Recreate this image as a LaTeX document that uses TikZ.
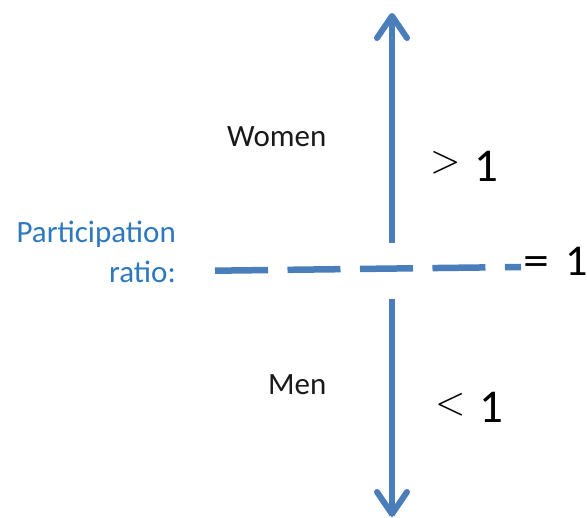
\documentclass[tikz,border=0pt]{standalone}
\usepackage{graphicx}
\usepackage{fontspec}
\setmainfont{Carlito}
\usetikzlibrary{arrows.meta}
\definecolor{arrowblue}{RGB}{74,126,187}
\definecolor{textblue}{RGB}{46,120,190}
\definecolor{textdark}{RGB}{25,25,25}
\newcommand{\bigrel}[1]{\raisebox{9pt}{\scalebox{3.9}{\fontsize{10}{12}\selectfont$#1$}}}
\tikzset{
  axisarrow/.style={draw=arrowblue, line width=6pt,
    -{Straight Barb[length=22pt, width=30pt, line cap=round, line join=round]}},
  ratioline/.style={draw=arrowblue, line width=6.5pt, dash pattern=on 53pt off 19.5pt},
  lbl/.style={inner sep=0pt, text=textdark, font=\fontsize{31}{37}\selectfont},
  bluelbl/.style={inner sep=0pt, text=textblue, font=\fontsize{31}{37}\selectfont},
  biglbl/.style={inner sep=0pt, text=black, font=\fontsize{47}{56}\selectfont},
}
\begin{document}
\begin{tikzpicture}[x=1pt,y=-1pt]
\useasboundingbox (0,0) rectangle (587,518);
% arrows
\coordinate (upstart) at (392,243);
\coordinate (uptip) at (392,13);
\coordinate (downstart) at (392,299);
\coordinate (downtip) at (392,517);
\draw[axisarrow] (upstart) -- (uptip);
\draw[axisarrow] (downstart) -- (downtip);
% dashed ratio line
\coordinate (dl) at (215,270.7);
\coordinate (dr) at (521,267);
\draw[ratioline] (dl) -- (dr);
% labels
\node[bluelbl, anchor=base east] (part) at (176,243) {Participation};
\node[bluelbl, anchor=base east] (ratio) at (176,283) {ratio:};
\node[lbl, anchor=base west] (women) at (227,147) {Women};
\node[lbl, anchor=base west] (men) at (268,395) {Men};
\node[biglbl, anchor=base west] (gt) at (430,182) {\bigrel{>}\hspace{14pt}1};
\node[biglbl, anchor=base west] (lt) at (435,423) {\bigrel{<}\hspace{14pt}1};
\node[inner sep=0pt, text=black, font=\fontsize{44}{52}\selectfont, anchor=base west] (eq) at (523,276) {\scalebox{1.18}[1]{=}\hspace{16pt}1};
\end{tikzpicture}
\end{document}
